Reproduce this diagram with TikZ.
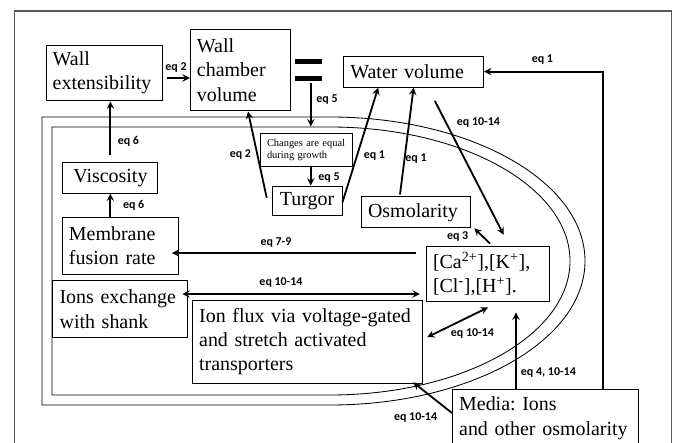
\documentclass[tikz,border=0pt]{standalone}
\usepackage{fontspec}
\setmainfont{Liberation Serif}
\newfontfamily\eqfont{Carlito}
\frenchspacing

\begin{document}
\begin{tikzpicture}[
    box/.style={rectangle, draw, line width=0.7pt, align=left, inner xsep=4.75pt, inner ysep=2pt, font=\fontsize{14.2}{17.4}\selectfont},
    smallbox/.style={box, font=\fontsize{7.4}{8.6}\selectfont},
    arrow/.style={->, >=stealth, line width=1.3pt},
    twoway/.style={<->, >=stealth, line width=1.3pt},
    eqlabel/.style={font=\eqfont\bfseries\fontsize{8.5}{10}\selectfont, inner sep=0pt},
    cellwall/.style={line width=0.6pt}
]

% Background
\useasboundingbox (0,0) rectangle (16.825,11.05);
\clip (0,0) rectangle (16.825,11.05);
\fill[white] (0,0) rectangle (16.825,11.05);

% Frame
\draw[gray!70!black, line width=1pt] (0.36,-0.5) -- (0.36,10.775) -- (16.78,10.775) -- (16.78,-0.5);

% Cell outline (two walls)
\draw[cellwall] (1.05,8.125) -- (8.25,8.125) arc[start angle=90, end angle=-90, x radius=6.375, y radius=3.6] -- (1.05,0.925) -- cycle;
\draw[cellwall] (1.3,7.875) -- (8.25,7.875) arc[start angle=90, end angle=-90, x radius=6.0, y radius=3.35] -- (1.3,1.175) -- cycle;

% Top row
\node[box, text width=73pt, minimum height=39.8pt] (wallext) at (2.6,9.225) {Wall\\extensibility};
\node[box, text width=61.8pt, minimum height=58.3pt] (chamber) at (6.01,9.3) {Wall\\chamber\\volume};
\node[minimum width=0.675cm, minimum height=0.4cm, inner sep=0pt] (eqsign) at (7.71,9.3) {};
\draw[line width=3.5pt] (eqsign.north west) -- (eqsign.north east);
\draw[line width=3.5pt] (eqsign.south west) -- (eqsign.south east);
\node[box, text width=90pt, minimum height=22pt] (water) at (10.34,9.26) {Water volume};

% Inside the cell
\node[smallbox, text width=56pt, minimum height=22.8pt] (changes) at (7.66,7.3) {Changes are equal\\during growth};
\node[box, align=center, minimum width=49.8pt, minimum height=21.3pt] (turgor) at (7.675,6.025) {Turgor};
\node[box, text width=68.2pt, minimum height=22pt] (osmo) at (10.4,5.74) {Osmolarity};
\node[box, align=center, minimum width=67.6pt, minimum height=22pt] (visc) at (2.76,6.61) {Viscosity};
\node[box, text width=73.2pt, minimum height=40.5pt] (fusion) at (3.01,4.91) {Membrane\\fusion rate};
\node[box, text width=78.2pt, minimum height=39.8pt] (ca) at (12.2,4.2) {[Ca\textsuperscript{2+}],[K\textsuperscript{+}],\\{}[Cl\textsuperscript{-}],[H\textsuperscript{+}].};
\node[box, text width=86.5pt, minimum height=40pt] (ionsex) at (3.01,3.325) {Ions exchange\\with shank};
\node[box, text width=154.3pt, minimum height=59pt] (flux) at (7.69,2.51) {\mbox{Ion flux via voltage-gated}\\and stretch activated\\transporters};

% Outside medium
\node[box, text width=123pt, minimum height=41pt] (media) at (13.64,0.6) {Media: Ions\\\mbox{and other osmolarity}};

% Connections
\draw[arrow, shorten <=3pt] ([yshift=-0.125cm]wallext.east) -- ([yshift=-0.125cm]wallext.east -| chamber.west);
\draw[arrow, shorten <=3.5pt, shorten >=5pt] ([xshift=0.06cm]eqsign.south) -- ([xshift=0.06cm]eqsign.south |- changes.north);
\draw[arrow] ([xshift=0.11cm]changes.south) -- ([xshift=0.11cm]changes.south |- turgor.north);
\draw[arrow] ([xshift=-0.12cm,yshift=0.08cm]turgor.west) -- ([xshift=0.19cm]chamber.south);
\draw[arrow] ([yshift=-0.03cm]turgor.east) -- ([xshift=0.875cm]water.south west);
\draw[arrow] ([xshift=-0.4cm,yshift=0.05cm]osmo.north) -- (water.south);
\draw[arrow, shorten <=0.375cm, shorten >=0.3cm] ([xshift=0.36cm]water.south) -- ([xshift=0.53cm]ca.north);
\draw[arrow] ([xshift=0.05cm,yshift=0.05cm]ca.north) -- ([xshift=0.08cm]osmo.south east);
\draw[arrow, shorten >=2pt] ([xshift=-0.25cm,yshift=0.525cm]ca.west) -- ([xshift=-0.25cm,yshift=0.525cm]ca.west -| fusion.east);
\draw[twoway] ([xshift=-0.15cm,yshift=-0.5cm]ca.west) -- ([xshift=-0.15cm,yshift=-0.5cm]ca.west -| ionsex.east);
\draw[twoway] ([xshift=0.1cm,yshift=0.11cm]flux.east) -- ([yshift=-0.125cm]ca.south);
\draw[arrow] ([xshift=0.7cm]ca.south |- media.north) -- ([xshift=0.7cm,yshift=-0.25cm]ca.south);
\draw[arrow] ([yshift=0.125cm]media.west) -- ([xshift=-0.25cm,yshift=0.03cm]flux.south east);
\draw[arrow] ([xshift=-0.9cm]media.north east) |- (water.east);
\draw[arrow, shorten <=0.175cm] (visc.north) -- (visc.north |- wallext.south);
\draw[arrow] (visc.south |- fusion.north) -- (visc.south);

% Equation labels
\node[eqlabel] (l1) at (4.4,9.35) {eq 2};
\node[eqlabel] (l2) at (8.175,8.55) {eq 5};
\node[eqlabel] (l3) at (8.225,6.6) {eq 5};
\node[eqlabel] (l4) at (6.01,7.175) {eq 2};
\node[eqlabel] (l5) at (9.36,7.15) {eq 1};
\node[eqlabel] (l6) at (10.4,7.075) {eq 1};
\node[eqlabel] (l7) at (11.96,7.975) {eq 10-14};
\node[eqlabel] (l8) at (13.56,9.55) {eq 1};
\node[eqlabel] (l9) at (11.44,5.125) {eq 3};
\node[eqlabel] (l10) at (6.9,4.975) {eq 7-9};
\node[eqlabel] (l11) at (7.025,3.975) {eq 10-14};
\node[eqlabel] (l12) at (11.81,2.7) {eq 10-14};
\node[eqlabel] (l13) at (13.71,1.725) {eq 4, 10-14};
\node[eqlabel] (l14) at (10.39,0.6) {eq 10-14};
\node[eqlabel] (l15) at (3.21,7.525) {eq 6};
\node[eqlabel] (l16) at (3.34,5.925) {eq 6};

\end{tikzpicture}
\end{document}
